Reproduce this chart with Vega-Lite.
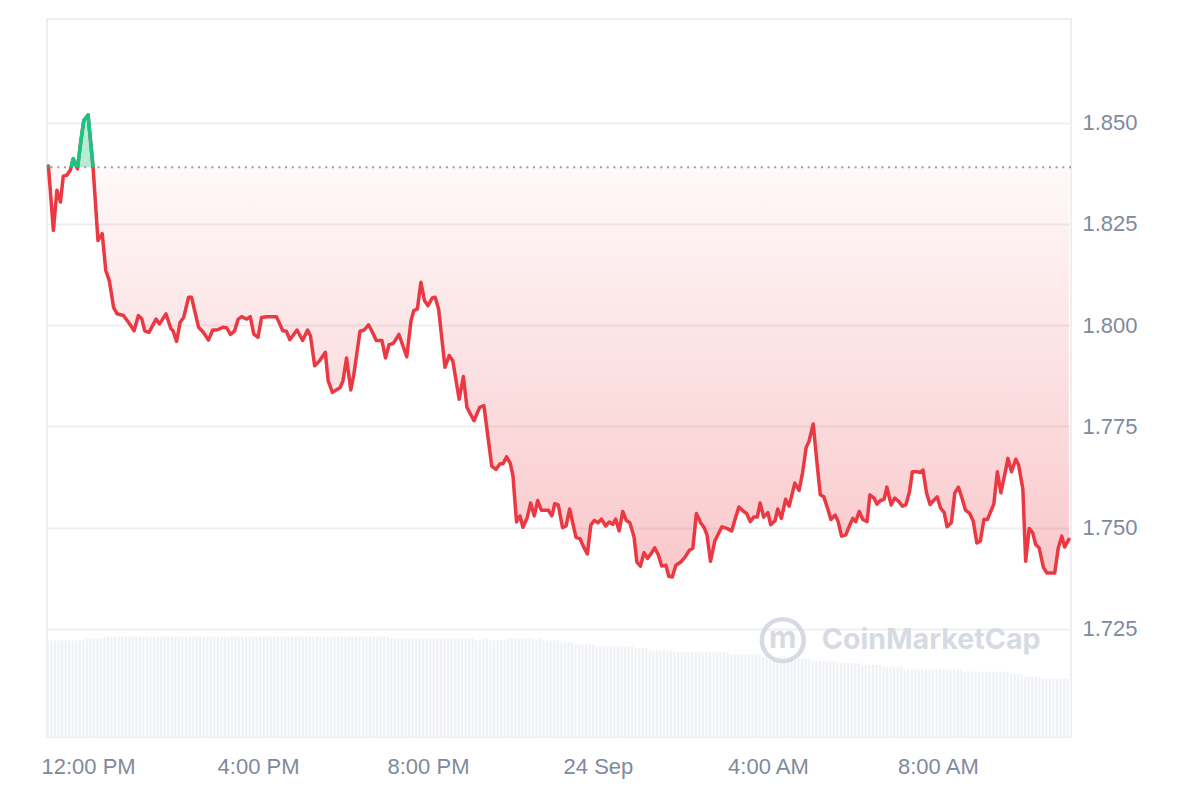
{
  "$schema": "https://vega.github.io/schema/vega-lite/v6.json",
  "width": 1024,
  "height": 718,
  "autosize": "none",
  "padding": {"left": 47, "top": 19, "right": 129, "bottom": 63},
  "background": "white",
  "config": {"view": {"stroke": "#eeeeee", "strokeWidth": 2}, "font": "Liberation Sans"},
  "datasets": {
    "price": [
      {"t":"2023-09-23T11:04:00Z","p":1.8393},{"t":"2023-09-23T11:11:00Z","p":1.8234},{"t":"2023-09-23T11:16:00Z","p":1.8333},{"t":"2023-09-23T11:21:00Z","p":1.8304},{"t":"2023-09-23T11:25:00Z","p":1.8368},{"t":"2023-09-23T11:30:00Z","p":1.837},{"t":"2023-09-23T11:35:00Z","p":1.8383},{"t":"2023-09-23T11:39:00Z","p":1.8411},{"t":"2023-09-23T11:45:00Z","p":1.8386},{"t":"2023-09-23T11:50:00Z","p":1.8457},{"t":"2023-09-23T11:54:00Z","p":1.8506},{"t":"2023-09-23T12:00:00Z","p":1.8519},{"t":"2023-09-23T12:07:00Z","p":1.8391},{"t":"2023-09-23T12:14:00Z","p":1.8209},{"t":"2023-09-23T12:20:00Z","p":1.8226},{"t":"2023-09-23T12:25:00Z","p":1.8135},{"t":"2023-09-23T12:30:00Z","p":1.811},{"t":"2023-09-23T12:36:00Z","p":1.8044},{"t":"2023-09-23T12:41:00Z","p":1.8028},{"t":"2023-09-23T12:50:00Z","p":1.8024},{"t":"2023-09-23T12:57:00Z","p":1.8007},{"t":"2023-09-23T13:05:00Z","p":1.7986},{"t":"2023-09-23T13:11:00Z","p":1.8024},{"t":"2023-09-23T13:16:00Z","p":1.8015},{"t":"2023-09-23T13:20:00Z","p":1.7986},{"t":"2023-09-23T13:26:00Z","p":1.7982},{"t":"2023-09-23T13:36:00Z","p":1.8015},{"t":"2023-09-23T13:41:00Z","p":1.8003},{"t":"2023-09-23T13:50:00Z","p":1.8028},{"t":"2023-09-23T13:57:00Z","p":1.7991},{"t":"2023-09-23T14:00:00Z","p":1.7986},{"t":"2023-09-23T14:05:00Z","p":1.796},{"t":"2023-09-23T14:10:00Z","p":1.8007},{"t":"2023-09-23T14:15:00Z","p":1.8019},{"t":"2023-09-23T14:22:00Z","p":1.8069},{"t":"2023-09-23T14:26:00Z","p":1.8069},{"t":"2023-09-23T14:36:00Z","p":1.7995},{"t":"2023-09-23T14:43:00Z","p":1.7982},{"t":"2023-09-23T14:50:00Z","p":1.7963},{"t":"2023-09-23T14:56:00Z","p":1.7988},{"t":"2023-09-23T15:02:00Z","p":1.7988},{"t":"2023-09-23T15:11:00Z","p":1.7995},{"t":"2023-09-23T15:16:00Z","p":1.7993},{"t":"2023-09-23T15:21:00Z","p":1.7977},{"t":"2023-09-23T15:27:00Z","p":1.7986},{"t":"2023-09-23T15:32:00Z","p":1.8015},{"t":"2023-09-23T15:37:00Z","p":1.8021},{"t":"2023-09-23T15:44:00Z","p":1.8015},{"t":"2023-09-23T15:49:00Z","p":1.8021},{"t":"2023-09-23T15:54:00Z","p":1.7978},{"t":"2023-09-23T16:00:00Z","p":1.797},{"t":"2023-09-23T16:05:00Z","p":1.8019},{"t":"2023-09-23T16:12:00Z","p":1.8021},{"t":"2023-09-23T16:26:00Z","p":1.8021},{"t":"2023-09-23T16:35:00Z","p":1.7986},{"t":"2023-09-23T16:40:00Z","p":1.7985},{"t":"2023-09-23T16:45:00Z","p":1.7964},{"t":"2023-09-23T16:55:00Z","p":1.7988},{"t":"2023-09-23T17:03:00Z","p":1.7962},{"t":"2023-09-23T17:10:00Z","p":1.7988},{"t":"2023-09-23T17:14:00Z","p":1.7974},{"t":"2023-09-23T17:20:00Z","p":1.79},{"t":"2023-09-23T17:27:00Z","p":1.7912},{"t":"2023-09-23T17:35:00Z","p":1.7933},{"t":"2023-09-23T17:39:00Z","p":1.7863},{"t":"2023-09-23T17:45:00Z","p":1.7834},{"t":"2023-09-23T17:56:00Z","p":1.7846},{"t":"2023-09-23T18:00:00Z","p":1.7863},{"t":"2023-09-23T18:05:00Z","p":1.7919},{"t":"2023-09-23T18:11:00Z","p":1.784},{"t":"2023-09-23T18:15:00Z","p":1.7875},{"t":"2023-09-23T18:24:00Z","p":1.7985},{"t":"2023-09-23T18:30:00Z","p":1.7988},{"t":"2023-09-23T18:36:00Z","p":1.8001},{"t":"2023-09-23T18:40:00Z","p":1.7988},{"t":"2023-09-23T18:47:00Z","p":1.7962},{"t":"2023-09-23T18:55:00Z","p":1.7962},{"t":"2023-09-23T19:00:00Z","p":1.7919},{"t":"2023-09-23T19:05:00Z","p":1.7952},{"t":"2023-09-23T19:11:00Z","p":1.7955},{"t":"2023-09-23T19:19:00Z","p":1.7977},{"t":"2023-09-23T19:30:00Z","p":1.7922},{"t":"2023-09-23T19:36:00Z","p":1.8011},{"t":"2023-09-23T19:40:00Z","p":1.8036},{"t":"2023-09-23T19:45:00Z","p":1.804},{"t":"2023-09-23T19:50:00Z","p":1.8106},{"t":"2023-09-23T19:55:00Z","p":1.8061},{"t":"2023-09-23T20:00:00Z","p":1.8048},{"t":"2023-09-23T20:06:00Z","p":1.8067},{"t":"2023-09-23T20:10:00Z","p":1.8069},{"t":"2023-09-23T20:15:00Z","p":1.804},{"t":"2023-09-23T20:24:00Z","p":1.7896},{"t":"2023-09-23T20:30:00Z","p":1.7925},{"t":"2023-09-23T20:35:00Z","p":1.7912},{"t":"2023-09-23T20:44:00Z","p":1.7817},{"t":"2023-09-23T20:50:00Z","p":1.7873},{"t":"2023-09-23T20:55:00Z","p":1.7797},{"t":"2023-09-23T21:05:00Z","p":1.7764},{"t":"2023-09-23T21:13:00Z","p":1.7797},{"t":"2023-09-23T21:19:00Z","p":1.7801},{"t":"2023-09-23T21:30:00Z","p":1.7652},{"t":"2023-09-23T21:36:00Z","p":1.7644},{"t":"2023-09-23T21:42:00Z","p":1.7658},{"t":"2023-09-23T21:46:00Z","p":1.7658},{"t":"2023-09-23T21:51:00Z","p":1.7675},{"t":"2023-09-23T21:56:00Z","p":1.766},{"t":"2023-09-23T22:00:00Z","p":1.7628},{"t":"2023-09-23T22:05:00Z","p":1.7514},{"t":"2023-09-23T22:10:00Z","p":1.7529},{"t":"2023-09-23T22:14:00Z","p":1.7501},{"t":"2023-09-23T22:20:00Z","p":1.7524},{"t":"2023-09-23T22:25:00Z","p":1.7561},{"t":"2023-09-23T22:30:00Z","p":1.7529},{"t":"2023-09-23T22:35:00Z","p":1.7567},{"t":"2023-09-23T22:40:00Z","p":1.7543},{"t":"2023-09-23T22:50:00Z","p":1.7543},{"t":"2023-09-23T22:55:00Z","p":1.7529},{"t":"2023-09-23T22:59:00Z","p":1.7559},{"t":"2023-09-23T23:04:00Z","p":1.7556},{"t":"2023-09-23T23:10:00Z","p":1.75},{"t":"2023-09-23T23:15:00Z","p":1.7504},{"t":"2023-09-23T23:20:00Z","p":1.7546},{"t":"2023-09-23T23:29:00Z","p":1.7476},{"t":"2023-09-23T23:35:00Z","p":1.7472},{"t":"2023-09-23T23:39:00Z","p":1.7455},{"t":"2023-09-23T23:45:00Z","p":1.7435},{"t":"2023-09-23T23:50:00Z","p":1.7507},{"t":"2023-09-23T23:55:00Z","p":1.7518},
      {"t":"2023-09-24T00:00:00Z","p":1.7512},{"t":"2023-09-24T00:05:00Z","p":1.7521},{"t":"2023-09-24T00:11:00Z","p":1.7504},{"t":"2023-09-24T00:16:00Z","p":1.7514},{"t":"2023-09-24T00:21:00Z","p":1.7508},{"t":"2023-09-24T00:25:00Z","p":1.7521},{"t":"2023-09-24T00:30:00Z","p":1.7492},{"t":"2023-09-24T00:35:00Z","p":1.754},{"t":"2023-09-24T00:40:00Z","p":1.7518},{"t":"2023-09-24T00:45:00Z","p":1.7512},{"t":"2023-09-24T00:51:00Z","p":1.7477},{"t":"2023-09-24T00:55:00Z","p":1.7415},{"t":"2023-09-24T01:00:00Z","p":1.7405},{"t":"2023-09-24T01:05:00Z","p":1.7438},{"t":"2023-09-24T01:10:00Z","p":1.7424},{"t":"2023-09-24T01:16:00Z","p":1.7438},{"t":"2023-09-24T01:20:00Z","p":1.745},{"t":"2023-09-24T01:25:00Z","p":1.7434},{"t":"2023-09-24T01:30:00Z","p":1.7405},{"t":"2023-09-24T01:36:00Z","p":1.7407},{"t":"2023-09-24T01:40:00Z","p":1.738},{"t":"2023-09-24T01:45:00Z","p":1.7378},{"t":"2023-09-24T01:50:00Z","p":1.7407},{"t":"2023-09-24T01:57:00Z","p":1.7415},{"t":"2023-09-24T02:03:00Z","p":1.7427},{"t":"2023-09-24T02:09:00Z","p":1.7444},{"t":"2023-09-24T02:14:00Z","p":1.7449},{"t":"2023-09-24T02:19:00Z","p":1.7535},{"t":"2023-09-24T02:25:00Z","p":1.7512},{"t":"2023-09-24T02:30:00Z","p":1.75},{"t":"2023-09-24T02:34:00Z","p":1.7482},{"t":"2023-09-24T02:39:00Z","p":1.7417},{"t":"2023-09-24T02:45:00Z","p":1.7467},{"t":"2023-09-24T02:55:00Z","p":1.7502},{"t":"2023-09-24T03:02:00Z","p":1.7498},{"t":"2023-09-24T03:09:00Z","p":1.7492},{"t":"2023-09-24T03:13:00Z","p":1.7517},{"t":"2023-09-24T03:19:00Z","p":1.7551},{"t":"2023-09-24T03:25:00Z","p":1.7541},{"t":"2023-09-24T03:30:00Z","p":1.7535},{"t":"2023-09-24T03:35:00Z","p":1.7515},{"t":"2023-09-24T03:40:00Z","p":1.7526},{"t":"2023-09-24T03:45:00Z","p":1.7526},{"t":"2023-09-24T03:49:00Z","p":1.7561},{"t":"2023-09-24T03:54:00Z","p":1.7526},{"t":"2023-09-24T04:00:00Z","p":1.7537},{"t":"2023-09-24T04:04:00Z","p":1.7507},{"t":"2023-09-24T04:10:00Z","p":1.7517},{"t":"2023-09-24T04:14:00Z","p":1.7546},{"t":"2023-09-24T04:19:00Z","p":1.7523},{"t":"2023-09-24T04:25:00Z","p":1.757},{"t":"2023-09-24T04:30:00Z","p":1.7553},{"t":"2023-09-24T04:38:00Z","p":1.761},{"t":"2023-09-24T04:44:00Z","p":1.7592},{"t":"2023-09-24T04:49:00Z","p":1.7636},{"t":"2023-09-24T04:54:00Z","p":1.7698},{"t":"2023-09-24T04:58:00Z","p":1.7713},{"t":"2023-09-24T05:04:00Z","p":1.7756},{"t":"2023-09-24T05:09:00Z","p":1.7665},{"t":"2023-09-24T05:14:00Z","p":1.7581},{"t":"2023-09-24T05:19:00Z","p":1.7576},{"t":"2023-09-24T05:24:00Z","p":1.7549},{"t":"2023-09-24T05:29:00Z","p":1.752},{"t":"2023-09-24T05:35:00Z","p":1.7531},{"t":"2023-09-24T05:39:00Z","p":1.7516},{"t":"2023-09-24T05:44:00Z","p":1.7479},{"t":"2023-09-24T05:50:00Z","p":1.7482},{"t":"2023-09-24T05:55:00Z","p":1.7504},{"t":"2023-09-24T06:00:00Z","p":1.7523},{"t":"2023-09-24T06:04:00Z","p":1.7515},{"t":"2023-09-24T06:09:00Z","p":1.754},{"t":"2023-09-24T06:14:00Z","p":1.752},{"t":"2023-09-24T06:20:00Z","p":1.7515},{"t":"2023-09-24T06:24:00Z","p":1.7581},{"t":"2023-09-24T06:30:00Z","p":1.7573},{"t":"2023-09-24T06:34:00Z","p":1.7558},{"t":"2023-09-24T06:39:00Z","p":1.7567},{"t":"2023-09-24T06:44:00Z","p":1.757},{"t":"2023-09-24T06:48:00Z","p":1.76},{"t":"2023-09-24T06:54:00Z","p":1.7556},{"t":"2023-09-24T06:59:00Z","p":1.7573},{"t":"2023-09-24T07:04:00Z","p":1.7566},{"t":"2023-09-24T07:10:00Z","p":1.7553},{"t":"2023-09-24T07:15:00Z","p":1.7557},{"t":"2023-09-24T07:20:00Z","p":1.7589},{"t":"2023-09-24T07:24:00Z","p":1.7638},{"t":"2023-09-24T07:31:00Z","p":1.7638},{"t":"2023-09-24T07:35:00Z","p":1.7636},{"t":"2023-09-24T07:39:00Z","p":1.7642},{"t":"2023-09-24T07:44:00Z","p":1.7586},{"t":"2023-09-24T07:49:00Z","p":1.7557},{"t":"2023-09-24T07:54:00Z","p":1.7567},{"t":"2023-09-24T07:59:00Z","p":1.7576},{"t":"2023-09-24T08:04:00Z","p":1.7548},{"t":"2023-09-24T08:09:00Z","p":1.7537},{"t":"2023-09-24T08:13:00Z","p":1.7502},{"t":"2023-09-24T08:19:00Z","p":1.7512},{"t":"2023-09-24T08:24:00Z","p":1.7586},{"t":"2023-09-24T08:29:00Z","p":1.76},{"t":"2023-09-24T08:34:00Z","p":1.7573},{"t":"2023-09-24T08:39:00Z","p":1.7543},{"t":"2023-09-24T08:45:00Z","p":1.7535},{"t":"2023-09-24T08:50:00Z","p":1.7516},{"t":"2023-09-24T08:55:00Z","p":1.7462},{"t":"2023-09-24T09:00:00Z","p":1.7467},{"t":"2023-09-24T09:05:00Z","p":1.752},{"t":"2023-09-24T09:10:00Z","p":1.752},{"t":"2023-09-24T09:14:00Z","p":1.7537},{"t":"2023-09-24T09:19:00Z","p":1.7558},{"t":"2023-09-24T09:24:00Z","p":1.7638},{"t":"2023-09-24T09:29:00Z","p":1.7586},{"t":"2023-09-24T09:35:00Z","p":1.7636},{"t":"2023-09-24T09:39:00Z","p":1.7671},{"t":"2023-09-24T09:44:00Z","p":1.7638},{"t":"2023-09-24T09:50:00Z","p":1.7669},{"t":"2023-09-24T09:54:00Z","p":1.7655},{"t":"2023-09-24T10:00:00Z","p":1.7595},{"t":"2023-09-24T10:04:00Z","p":1.7417},{"t":"2023-09-24T10:09:00Z","p":1.7498},{"t":"2023-09-24T10:14:00Z","p":1.7487},{"t":"2023-09-24T10:18:00Z","p":1.7459},{"t":"2023-09-24T10:23:00Z","p":1.745},{"t":"2023-09-24T10:29:00Z","p":1.7402},{"t":"2023-09-24T10:34:00Z","p":1.7388},{"t":"2023-09-24T10:45:00Z","p":1.7388},{"t":"2023-09-24T10:50:00Z","p":1.745},{"t":"2023-09-24T10:55:00Z","p":1.7479},{"t":"2023-09-24T10:59:00Z","p":1.7452},{"t":"2023-09-24T11:05:00Z","p":1.7471}
    ],
    "green": [
      {"s":"a","t":"2023-09-23T11:04:00Z","p":1.8393},{"s":"a","t":"2023-09-23T11:04:20Z","p":1.839},
      {"s":"b","t":"2023-09-23T11:36:00Z","p":1.839},{"s":"b","t":"2023-09-23T11:39:00Z","p":1.8411},{"s":"b","t":"2023-09-23T11:44:20Z","p":1.839},
      {"s":"c","t":"2023-09-23T11:45:10Z","p":1.839},{"s":"c","t":"2023-09-23T11:50:00Z","p":1.8457},{"s":"c","t":"2023-09-23T11:54:00Z","p":1.8506},{"s":"c","t":"2023-09-23T12:00:00Z","p":1.8519},{"s":"c","t":"2023-09-23T12:07:00Z","p":1.839}
    ],
    "vol": [
      {"t":"2023-09-23T11:00:00Z","v":9.67},{"t":"2023-09-23T11:05:00Z","v":9.67},{"t":"2023-09-23T11:10:00Z","v":9.67},{"t":"2023-09-23T11:15:00Z","v":9.67},{"t":"2023-09-23T11:20:00Z","v":9.67},{"t":"2023-09-23T11:25:00Z","v":9.67},{"t":"2023-09-23T11:30:00Z","v":9.67},{"t":"2023-09-23T11:35:00Z","v":9.67},{"t":"2023-09-23T11:40:00Z","v":9.67},{"t":"2023-09-23T11:45:00Z","v":9.67},{"t":"2023-09-23T11:50:00Z","v":9.67},
      {"t":"2023-09-23T11:55:00Z","v":9.87},{"t":"2023-09-23T12:00:00Z","v":9.87},{"t":"2023-09-23T12:05:00Z","v":9.87},{"t":"2023-09-23T12:10:00Z","v":9.87},{"t":"2023-09-23T12:15:00Z","v":9.87},
      {"t":"2023-09-23T12:20:00Z","v":10.03},{"t":"2023-09-23T12:25:00Z","v":10.03},{"t":"2023-09-23T12:30:00Z","v":10.03},{"t":"2023-09-23T12:35:00Z","v":10.03},{"t":"2023-09-23T12:40:00Z","v":10.03},{"t":"2023-09-23T12:45:00Z","v":10.03},{"t":"2023-09-23T12:50:00Z","v":10.03},{"t":"2023-09-23T12:55:00Z","v":10.03},
      {"t":"2023-09-23T13:00:00Z","v":10.03},{"t":"2023-09-23T13:05:00Z","v":10.03},{"t":"2023-09-23T13:10:00Z","v":10.03},{"t":"2023-09-23T13:15:00Z","v":10.03},{"t":"2023-09-23T13:20:00Z","v":10.03},{"t":"2023-09-23T13:25:00Z","v":10.03},{"t":"2023-09-23T13:30:00Z","v":10.03},{"t":"2023-09-23T13:35:00Z","v":10.03},{"t":"2023-09-23T13:40:00Z","v":10.03},{"t":"2023-09-23T13:45:00Z","v":10.03},{"t":"2023-09-23T13:50:00Z","v":10.03},{"t":"2023-09-23T13:55:00Z","v":10.03},
      {"t":"2023-09-23T14:00:00Z","v":10.03},{"t":"2023-09-23T14:05:00Z","v":10.03},{"t":"2023-09-23T14:10:00Z","v":10.03},{"t":"2023-09-23T14:15:00Z","v":10.03},{"t":"2023-09-23T14:20:00Z","v":10.03},{"t":"2023-09-23T14:25:00Z","v":10.03},{"t":"2023-09-23T14:30:00Z","v":10.03},{"t":"2023-09-23T14:35:00Z","v":10.03},{"t":"2023-09-23T14:40:00Z","v":10.03},{"t":"2023-09-23T14:45:00Z","v":10.03},{"t":"2023-09-23T14:50:00Z","v":10.03},{"t":"2023-09-23T14:55:00Z","v":10.03},
      {"t":"2023-09-23T15:00:00Z","v":10.03},{"t":"2023-09-23T15:05:00Z","v":10.03},{"t":"2023-09-23T15:10:00Z","v":10.03},{"t":"2023-09-23T15:15:00Z","v":10.03},{"t":"2023-09-23T15:20:00Z","v":10.03},{"t":"2023-09-23T15:25:00Z","v":10.03},{"t":"2023-09-23T15:30:00Z","v":10.03},{"t":"2023-09-23T15:35:00Z","v":10.03},{"t":"2023-09-23T15:40:00Z","v":10.03},{"t":"2023-09-23T15:45:00Z","v":10.03},{"t":"2023-09-23T15:50:00Z","v":10.03},{"t":"2023-09-23T15:55:00Z","v":10.03},
      {"t":"2023-09-23T16:00:00Z","v":10.03},{"t":"2023-09-23T16:05:00Z","v":10.03},{"t":"2023-09-23T16:10:00Z","v":10.03},{"t":"2023-09-23T16:15:00Z","v":10.03},{"t":"2023-09-23T16:20:00Z","v":10.03},{"t":"2023-09-23T16:25:00Z","v":10.03},{"t":"2023-09-23T16:30:00Z","v":10.03},{"t":"2023-09-23T16:35:00Z","v":10.03},{"t":"2023-09-23T16:40:00Z","v":10.03},{"t":"2023-09-23T16:45:00Z","v":10.03},{"t":"2023-09-23T16:50:00Z","v":10.03},{"t":"2023-09-23T16:55:00Z","v":10.03},
      {"t":"2023-09-23T17:00:00Z","v":10.03},{"t":"2023-09-23T17:05:00Z","v":10.03},{"t":"2023-09-23T17:10:00Z","v":10.03},{"t":"2023-09-23T17:15:00Z","v":10.03},{"t":"2023-09-23T17:20:00Z","v":10.03},{"t":"2023-09-23T17:25:00Z","v":10.03},{"t":"2023-09-23T17:30:00Z","v":10.03},{"t":"2023-09-23T17:35:00Z","v":10.03},{"t":"2023-09-23T17:40:00Z","v":10.03},{"t":"2023-09-23T17:45:00Z","v":10.03},{"t":"2023-09-23T17:50:00Z","v":10.03},{"t":"2023-09-23T17:55:00Z","v":10.03},
      {"t":"2023-09-23T18:00:00Z","v":10.03},{"t":"2023-09-23T18:05:00Z","v":10.03},{"t":"2023-09-23T18:10:00Z","v":10.03},{"t":"2023-09-23T18:15:00Z","v":10.03},{"t":"2023-09-23T18:20:00Z","v":10.03},{"t":"2023-09-23T18:25:00Z","v":10.03},{"t":"2023-09-23T18:30:00Z","v":10.03},{"t":"2023-09-23T18:35:00Z","v":10.03},{"t":"2023-09-23T18:40:00Z","v":10.03},{"t":"2023-09-23T18:45:00Z","v":10.03},{"t":"2023-09-23T18:50:00Z","v":10.03},{"t":"2023-09-23T18:55:00Z","v":10.03},{"t":"2023-09-23T19:00:00Z","v":10.03},
      {"t":"2023-09-23T19:05:00Z","v":9.87},{"t":"2023-09-23T19:10:00Z","v":9.87},{"t":"2023-09-23T19:15:00Z","v":9.87},{"t":"2023-09-23T19:20:00Z","v":9.87},{"t":"2023-09-23T19:25:00Z","v":9.87},{"t":"2023-09-23T19:30:00Z","v":9.87},{"t":"2023-09-23T19:35:00Z","v":9.87},{"t":"2023-09-23T19:40:00Z","v":9.87},{"t":"2023-09-23T19:45:00Z","v":9.87},{"t":"2023-09-23T19:50:00Z","v":9.87},{"t":"2023-09-23T19:55:00Z","v":9.87},
      {"t":"2023-09-23T20:00:00Z","v":9.87},{"t":"2023-09-23T20:05:00Z","v":9.87},{"t":"2023-09-23T20:10:00Z","v":9.87},{"t":"2023-09-23T20:15:00Z","v":9.87},{"t":"2023-09-23T20:20:00Z","v":9.87},{"t":"2023-09-23T20:25:00Z","v":9.87},{"t":"2023-09-23T20:30:00Z","v":9.87},{"t":"2023-09-23T20:35:00Z","v":9.87},{"t":"2023-09-23T20:40:00Z","v":9.87},{"t":"2023-09-23T20:45:00Z","v":9.87},{"t":"2023-09-23T20:50:00Z","v":9.87},{"t":"2023-09-23T20:55:00Z","v":9.87},{"t":"2023-09-23T21:00:00Z","v":9.87},
      {"t":"2023-09-23T21:05:00Z","v":9.67},{"t":"2023-09-23T21:10:00Z","v":9.67},{"t":"2023-09-23T21:15:00Z","v":9.87},{"t":"2023-09-23T21:20:00Z","v":9.87},
      {"t":"2023-09-23T21:25:00Z","v":9.67},{"t":"2023-09-23T21:30:00Z","v":9.67},{"t":"2023-09-23T21:35:00Z","v":9.67},{"t":"2023-09-23T21:40:00Z","v":9.67},{"t":"2023-09-23T21:45:00Z","v":9.67},
      {"t":"2023-09-23T21:50:00Z","v":9.87},{"t":"2023-09-23T21:55:00Z","v":9.87},{"t":"2023-09-23T22:00:00Z","v":9.87},{"t":"2023-09-23T22:05:00Z","v":9.87},{"t":"2023-09-23T22:10:00Z","v":9.87},{"t":"2023-09-23T22:15:00Z","v":9.87},{"t":"2023-09-23T22:20:00Z","v":9.87},{"t":"2023-09-23T22:25:00Z","v":9.87},
      {"t":"2023-09-23T22:30:00Z","v":9.67},{"t":"2023-09-23T22:35:00Z","v":9.87},
      {"t":"2023-09-23T22:40:00Z","v":9.67},{"t":"2023-09-23T22:45:00Z","v":9.67},{"t":"2023-09-23T22:50:00Z","v":9.67},{"t":"2023-09-23T22:55:00Z","v":9.67},{"t":"2023-09-23T23:00:00Z","v":9.67},
      {"t":"2023-09-23T23:05:00Z","v":9.47},{"t":"2023-09-23T23:10:00Z","v":9.47},{"t":"2023-09-23T23:15:00Z","v":9.47},{"t":"2023-09-23T23:20:00Z","v":9.47},
      {"t":"2023-09-23T23:25:00Z","v":9.27},{"t":"2023-09-23T23:30:00Z","v":9.27},{"t":"2023-09-23T23:35:00Z","v":9.27},{"t":"2023-09-23T23:40:00Z","v":9.27},{"t":"2023-09-23T23:45:00Z","v":9.27},{"t":"2023-09-23T23:50:00Z","v":9.27},
      {"t":"2023-09-23T23:55:00Z","v":9.07},{"t":"2023-09-24T00:00:00Z","v":9.07},{"t":"2023-09-24T00:05:00Z","v":9.07},{"t":"2023-09-24T00:10:00Z","v":9.07},{"t":"2023-09-24T00:15:00Z","v":9.07},{"t":"2023-09-24T00:20:00Z","v":9.07},{"t":"2023-09-24T00:25:00Z","v":9.07},{"t":"2023-09-24T00:30:00Z","v":9.07},{"t":"2023-09-24T00:35:00Z","v":9.07},{"t":"2023-09-24T00:40:00Z","v":9.07},{"t":"2023-09-24T00:45:00Z","v":9.07},
      {"t":"2023-09-24T00:50:00Z","v":8.87},{"t":"2023-09-24T00:55:00Z","v":8.87},{"t":"2023-09-24T01:00:00Z","v":8.87},{"t":"2023-09-24T01:05:00Z","v":8.87},
      {"t":"2023-09-24T01:10:00Z","v":8.67},{"t":"2023-09-24T01:15:00Z","v":8.67},{"t":"2023-09-24T01:20:00Z","v":8.67},{"t":"2023-09-24T01:25:00Z","v":8.67},{"t":"2023-09-24T01:30:00Z","v":8.67},{"t":"2023-09-24T01:35:00Z","v":8.67},{"t":"2023-09-24T01:40:00Z","v":8.67},
      {"t":"2023-09-24T01:45:00Z","v":8.47},{"t":"2023-09-24T01:50:00Z","v":8.47},{"t":"2023-09-24T01:55:00Z","v":8.47},{"t":"2023-09-24T02:00:00Z","v":8.47},{"t":"2023-09-24T02:05:00Z","v":8.47},{"t":"2023-09-24T02:10:00Z","v":8.47},{"t":"2023-09-24T02:15:00Z","v":8.47},{"t":"2023-09-24T02:20:00Z","v":8.47},{"t":"2023-09-24T02:25:00Z","v":8.47},{"t":"2023-09-24T02:30:00Z","v":8.47},{"t":"2023-09-24T02:35:00Z","v":8.47},{"t":"2023-09-24T02:40:00Z","v":8.47},{"t":"2023-09-24T02:45:00Z","v":8.47},{"t":"2023-09-24T02:50:00Z","v":8.47},{"t":"2023-09-24T02:55:00Z","v":8.47},{"t":"2023-09-24T03:00:00Z","v":8.47},
      {"t":"2023-09-24T03:05:00Z","v":8.27},{"t":"2023-09-24T03:10:00Z","v":8.27},{"t":"2023-09-24T03:15:00Z","v":8.27},{"t":"2023-09-24T03:20:00Z","v":8.27},{"t":"2023-09-24T03:25:00Z","v":8.27},{"t":"2023-09-24T03:30:00Z","v":8.27},{"t":"2023-09-24T03:35:00Z","v":8.27},{"t":"2023-09-24T03:40:00Z","v":8.27},{"t":"2023-09-24T03:45:00Z","v":8.27},
      {"t":"2023-09-24T03:50:00Z","v":8.03},{"t":"2023-09-24T03:55:00Z","v":8.03},{"t":"2023-09-24T04:00:00Z","v":8.03},{"t":"2023-09-24T04:05:00Z","v":8.03},{"t":"2023-09-24T04:10:00Z","v":8.03},{"t":"2023-09-24T04:15:00Z","v":8.03},{"t":"2023-09-24T04:20:00Z","v":8.03},{"t":"2023-09-24T04:25:00Z","v":8.03},{"t":"2023-09-24T04:30:00Z","v":8.03},
      {"t":"2023-09-24T04:35:00Z","v":7.8},{"t":"2023-09-24T04:40:00Z","v":7.8},{"t":"2023-09-24T04:45:00Z","v":7.8},{"t":"2023-09-24T04:50:00Z","v":7.8},{"t":"2023-09-24T04:55:00Z","v":7.8},
      {"t":"2023-09-24T05:00:00Z","v":7.6},{"t":"2023-09-24T05:05:00Z","v":7.6},{"t":"2023-09-24T05:10:00Z","v":7.6},{"t":"2023-09-24T05:15:00Z","v":7.6},{"t":"2023-09-24T05:20:00Z","v":7.6},{"t":"2023-09-24T05:25:00Z","v":7.6},{"t":"2023-09-24T05:30:00Z","v":7.6},
      {"t":"2023-09-24T05:35:00Z","v":7.4},{"t":"2023-09-24T05:40:00Z","v":7.4},{"t":"2023-09-24T05:45:00Z","v":7.4},{"t":"2023-09-24T05:50:00Z","v":7.4},{"t":"2023-09-24T05:55:00Z","v":7.4},{"t":"2023-09-24T06:00:00Z","v":7.4},{"t":"2023-09-24T06:05:00Z","v":7.4},
      {"t":"2023-09-24T06:10:00Z","v":7.2},{"t":"2023-09-24T06:15:00Z","v":7.2},{"t":"2023-09-24T06:20:00Z","v":7.2},{"t":"2023-09-24T06:25:00Z","v":7.2},{"t":"2023-09-24T06:30:00Z","v":7.2},{"t":"2023-09-24T06:35:00Z","v":7.2},
      {"t":"2023-09-24T06:40:00Z","v":7.0},{"t":"2023-09-24T06:45:00Z","v":7.0},{"t":"2023-09-24T06:50:00Z","v":7.0},{"t":"2023-09-24T06:55:00Z","v":7.0},{"t":"2023-09-24T07:00:00Z","v":7.0},{"t":"2023-09-24T07:05:00Z","v":7.0},
      {"t":"2023-09-24T07:10:00Z","v":6.77},{"t":"2023-09-24T07:15:00Z","v":6.77},{"t":"2023-09-24T07:20:00Z","v":6.77},{"t":"2023-09-24T07:25:00Z","v":6.77},{"t":"2023-09-24T07:30:00Z","v":6.77},{"t":"2023-09-24T07:35:00Z","v":6.77},{"t":"2023-09-24T07:40:00Z","v":6.77},{"t":"2023-09-24T07:45:00Z","v":6.77},{"t":"2023-09-24T07:50:00Z","v":6.77},{"t":"2023-09-24T07:55:00Z","v":6.77},{"t":"2023-09-24T08:00:00Z","v":6.77},{"t":"2023-09-24T08:05:00Z","v":6.77},{"t":"2023-09-24T08:10:00Z","v":6.77},{"t":"2023-09-24T08:15:00Z","v":6.77},{"t":"2023-09-24T08:20:00Z","v":6.77},{"t":"2023-09-24T08:25:00Z","v":6.77},{"t":"2023-09-24T08:30:00Z","v":6.77},
      {"t":"2023-09-24T08:35:00Z","v":6.53},{"t":"2023-09-24T08:40:00Z","v":6.53},{"t":"2023-09-24T08:45:00Z","v":6.53},{"t":"2023-09-24T08:50:00Z","v":6.53},{"t":"2023-09-24T08:55:00Z","v":6.53},{"t":"2023-09-24T09:00:00Z","v":6.53},{"t":"2023-09-24T09:05:00Z","v":6.53},{"t":"2023-09-24T09:10:00Z","v":6.53},{"t":"2023-09-24T09:15:00Z","v":6.53},{"t":"2023-09-24T09:20:00Z","v":6.53},{"t":"2023-09-24T09:25:00Z","v":6.53},{"t":"2023-09-24T09:30:00Z","v":6.53},{"t":"2023-09-24T09:35:00Z","v":6.53},
      {"t":"2023-09-24T09:40:00Z","v":6.3},{"t":"2023-09-24T09:45:00Z","v":6.3},{"t":"2023-09-24T09:50:00Z","v":6.3},{"t":"2023-09-24T09:55:00Z","v":6.3},
      {"t":"2023-09-24T10:00:00Z","v":6.03},{"t":"2023-09-24T10:05:00Z","v":6.03},{"t":"2023-09-24T10:10:00Z","v":6.03},{"t":"2023-09-24T10:15:00Z","v":6.03},{"t":"2023-09-24T10:20:00Z","v":6.03},
      {"t":"2023-09-24T10:25:00Z","v":5.83},{"t":"2023-09-24T10:30:00Z","v":5.83},{"t":"2023-09-24T10:35:00Z","v":5.83},{"t":"2023-09-24T10:40:00Z","v":5.83},{"t":"2023-09-24T10:45:00Z","v":5.83},{"t":"2023-09-24T10:50:00Z","v":5.83},{"t":"2023-09-24T10:55:00Z","v":5.83},{"t":"2023-09-24T11:00:00Z","v":5.83},
      {"t":"2023-09-24T11:05:00Z","v":5.63}
    ]
  },
  "layer": [
    {
      "data": {"name": "vol"},
      "mark": {"type": "bar", "color": "#eef1f5", "stroke": "#fbfcfd", "strokeWidth": 0.6, "clip": true},
      "encoding": {
        "x": {
          "field": "t", "type": "temporal",
          "timeUnit": {"unit": "yearmonthdatehoursminutes", "step": 5, "utc": true},
          "scale": {"type": "utc", "domain": [
            {"year": 2023, "month": 9, "date": 23, "hours": 11, "minutes": 2, "utc": true},
            {"year": 2023, "month": 9, "date": 24, "hours": 11, "minutes": 8, "utc": true}
          ]},
          "title": null,
          "axis": {
            "values": [
              {"year": 2023, "month": 9, "date": 23, "hours": 12, "utc": true},
              {"year": 2023, "month": 9, "date": 23, "hours": 16, "utc": true},
              {"year": 2023, "month": 9, "date": 23, "hours": 20, "utc": true},
              {"year": 2023, "month": 9, "date": 24, "hours": 0, "utc": true},
              {"year": 2023, "month": 9, "date": 24, "hours": 4, "utc": true},
              {"year": 2023, "month": 9, "date": 24, "hours": 8, "utc": true}
            ],
            "labelExpr": "utchours(datum.value) == 0 ? utcFormat(datum.value, '%-d %b') : utcFormat(datum.value, '%-I:%M %p')",
            "ticks": false, "domain": false, "grid": false,
            "labelFont": "Liberation Sans", "labelFontSize": 22, "labelColor": "#808a9d",
            "labelPadding": 19, "labelFlush": false, "labelOverlap": false
          }
        },
        "y": {"field": "v", "type": "quantitative", "scale": {"domain": [0, 71.83], "nice": false, "zero": true}, "axis": null}
      }
    },
    {
      "layer": [
        {
          "data": {"name": "price"},
          "mark": {"type": "area", "fill": {"gradient": "linear", "x1": 0, "y1": 0, "x2": 0, "y2": 1, "stops": [{"offset": 0, "color": "rgba(234,57,67,0.0)"}, {"offset": 1, "color": "rgba(234,57,67,0.28)"}]}},
          "encoding": {
            "x": {"field": "t", "type": "temporal", "title": null},
            "y": {
              "field": "p", "type": "quantitative", "title": null,
              "scale": {"domain": [1.6983, 1.8756], "nice": false, "zero": false},
              "axis": {
                "orient": "right", "values": [1.725, 1.75, 1.775, 1.8, 1.825, 1.85], "format": ".3f",
                "ticks": false, "domain": false, "grid": true, "gridColor": "#efefef", "gridWidth": 2,
                "labelFont": "Liberation Sans", "labelFontSize": 22, "labelColor": "#808a9d", "labelPadding": 11
              }
            },
            "y2": {"datum": 1.839}
          }
        },
        {
          "data": {"name": "green"},
          "mark": {"type": "area", "color": "#16c784", "opacity": 0.3},
          "encoding": {
            "x": {"field": "t", "type": "temporal", "title": null},
            "y": {"field": "p", "type": "quantitative", "title": null},
            "y2": {"datum": 1.839},
            "detail": {"field": "s"}
          }
        },
        {
          "data": {"values": [{}]},
          "mark": {"type": "rule", "color": "#9a9ea6", "strokeDash": [2, 4.7], "strokeWidth": 2},
          "encoding": {"y": {"datum": 1.839}}
        },
        {
          "data": {"name": "price"},
          "mark": {"type": "line", "color": "#ea3943", "strokeWidth": 3.5, "strokeJoin": "round", "strokeCap": "round"},
          "encoding": {
            "x": {"field": "t", "type": "temporal", "title": null},
            "y": {"field": "p", "type": "quantitative", "title": null}
          }
        },
        {
          "data": {"name": "green"},
          "mark": {"type": "line", "color": "#16c784", "strokeWidth": 3.5, "strokeJoin": "round"},
          "encoding": {
            "x": {"field": "t", "type": "temporal", "title": null},
            "y": {"field": "p", "type": "quantitative", "title": null},
            "detail": {"field": "s"}
          }
        },
        {
          "data": {"values": [{}]},
          "mark": {"type": "point", "shape": "circle", "filled": false, "stroke": "#d6dbe3", "strokeWidth": 4.5, "size": 1750, "opacity": 1},
          "encoding": {
            "x": {"datum": {"year": 2023, "month": 9, "date": 24, "hours": 4, "minutes": 21, "utc": true}, "type": "temporal"},
            "y": {"datum": 1.7222}
          }
        },
        {
          "data": {"values": [{}]},
          "mark": {"type": "text", "text": "m", "align": "center", "baseline": "middle", "fontSize": 30, "fontWeight": "bold", "font": "Inter", "color": "#d6dbe3"},
          "encoding": {
            "x": {"datum": {"year": 2023, "month": 9, "date": 24, "hours": 4, "minutes": 21, "utc": true}, "type": "temporal"},
            "y": {"datum": 1.7225}
          }
        },
        {
          "data": {"values": [{}]},
          "mark": {"type": "text", "text": "CoinMarketCap", "align": "left", "baseline": "middle", "fontSize": 28.6, "fontWeight": "bold", "font": "Inter", "color": "#d6dbe3"},
          "encoding": {
            "x": {"datum": {"year": 2023, "month": 9, "date": 24, "hours": 5, "minutes": 16, "utc": true}, "type": "temporal"},
            "y": {"datum": 1.7222}
          }
        }
      ]
    }
  ],
  "resolve": {"scale": {"y": "independent"}}
}
